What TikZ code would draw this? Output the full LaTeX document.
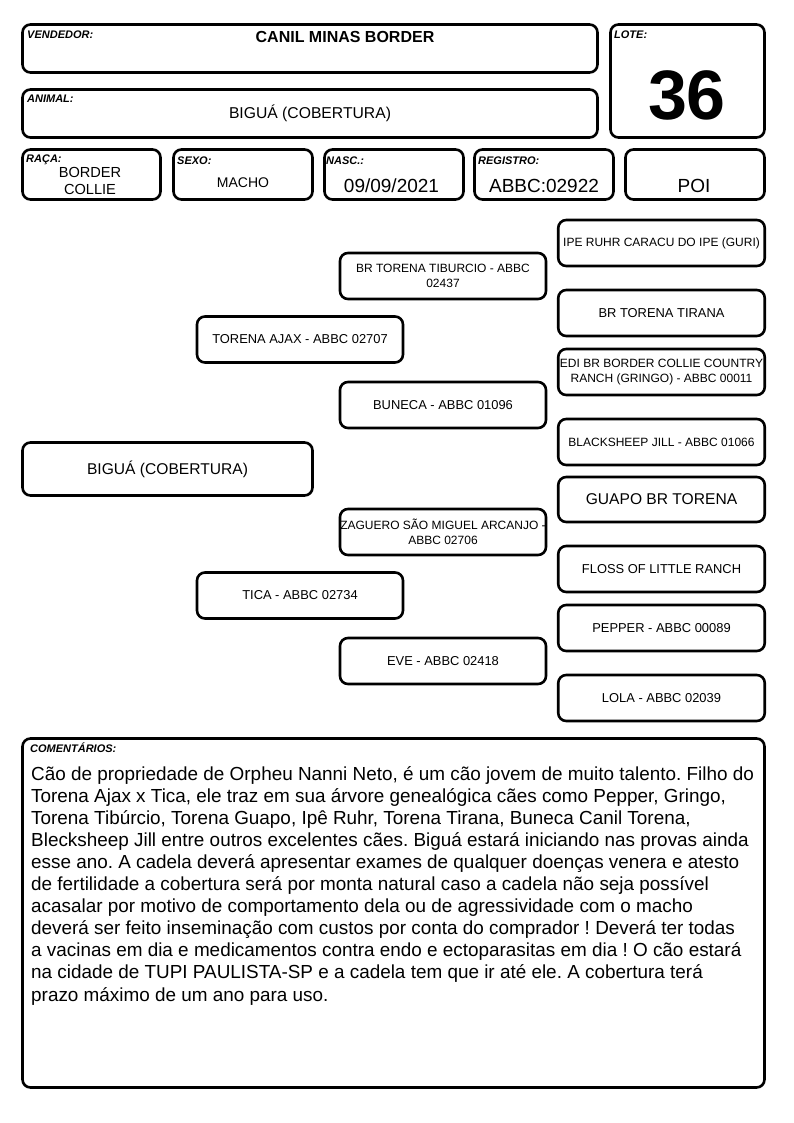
\documentclass[tikz,border=0pt]{standalone}
\usepackage{fontspec}
\setmainfont{Liberation Sans}
\begin{document}
\frenchspacing
\begin{tikzpicture}[x=1pt,y=-1pt,
  box/.style={draw, rounded corners=8pt, line width=2.6pt, inner sep=0pt, align=center},
  lbl/.style={font=\fontsize{11}{12}\selectfont\bfseries\itshape, anchor=west, inner sep=0pt},
  ped/.style={box, minimum width=206pt, minimum height=46pt, font=\fontsize{12.9}{15}\selectfont},
  pedsm/.style={ped, font=\fontsize{12}{15.5}\selectfont},
  pedbig/.style={ped, font=\fontsize{15.6}{18}\selectfont},
  val/.style={inner sep=0pt, font=\fontsize{14.6}{17}\selectfont},
  valbig/.style={inner sep=0pt, font=\fontsize{19}{22}\selectfont},
  cmt/.style={inner sep=0pt, anchor=base west, font=\fontsize{18.9}{22.1}\selectfont}]
\useasboundingbox (0,0) rectangle (794,1123);
% header boxes
\node[box, minimum width=575pt, minimum height=48pt] (vend) at (310,48.5) {};
\node[box, minimum width=575pt, minimum height=48pt, font=\fontsize{15.7}{18}\selectfont] (anim) at (310,113.5) {BIGUÁ (COBERTURA)};
\node[box, minimum width=154pt, minimum height=113pt] (lote) at (687.5,81) {};
\node[box, minimum width=138pt, minimum height=50pt] (raca) at (91.5,174.5) {};
\node[box, minimum width=139pt, minimum height=50pt] (sexo) at (243,174.5) {};
\node[box, minimum width=139pt, minimum height=50pt] (nasc) at (394,174.5) {};
\node[box, minimum width=139pt, minimum height=50pt] (reg) at (544,174.5) {};
\node[box, minimum width=139pt, minimum height=50pt] (poi) at (695,174.5) {};
% labels
\node[lbl] (lvend) at (27,35) {VENDEDOR:};
\node[lbl] (lanim) at (27,99) {ANIMAL:};
\node[lbl] (llote) at (614,35) {LOTE:};
\node[lbl] (lraca) at (26,159.5) {RAÇA:};
\node[lbl] (lsexo) at (177,160.5) {SEXO:};
\node[lbl] (lnasc) at (326,160.5) {NASC.:};
\node[lbl] (lreg) at (478,160.5) {REGISTRO:};
% values
\node[inner sep=0pt, font=\fontsize{16}{19}\selectfont\bfseries] (tvend) at (345,37) {CANIL MINAS BORDER};
\node[inner sep=0pt, font=\fontsize{70}{80}\selectfont\bfseries] (tlote) at (687,95) {36};
\node[val] (traca1) at (90,172) {BORDER};
\node[val] (traca2) at (90,189) {COLLIE};
\node[val, font=\fontsize{14}{17}\selectfont] (tsexo) at (243,183) {MACHO};
\node[valbig] (tnasc) at (391.5,186) {09/09/2021};
\node[valbig] (treg) at (544,186) {ABBC:02922};
\node[valbig] (tpoi) at (694,186) {POI};
% pedigree
\node[pedbig, minimum width=290pt, minimum height=53pt] (main) at (167.5,469) {BIGUÁ (COBERTURA)};
\node[ped] (ajax) at (300,339.5) {TORENA AJAX - ABBC 02707};
\node[ped] (tica) at (300,595.5) {TICA - ABBC 02734};
\node[pedsm] (tib) at (443,276) {BR TORENA TIBURCIO - ABBC\\02437};
\node[ped] (bun) at (443,405) {BUNECA - ABBC 01096};
\node[pedsm] (zag) at (443,532) {ZAGUERO SÃO MIGUEL ARCANJO -\\ABBC 02706};
\node[ped] (eve) at (443,661) {EVE - ABBC 02418};
\node[pedsm, minimum width=206.5pt] (ipe) at (661.5,243) {IPE RUHR CARACU DO IPE (GURI)};
\node[ped, minimum width=206.5pt] (tir) at (661.5,313) {BR TORENA TIRANA};
\node[pedsm, minimum width=206.5pt] (edi) at (661.5,372) {EDI BR BORDER COLLIE COUNTRY\\RANCH (GRINGO) - ABBC 00011};
\node[pedsm, minimum width=206.5pt] (blk) at (661.5,442) {BLACKSHEEP JILL - ABBC 01066};
\node[pedbig, minimum width=206.5pt, minimum height=45pt] (gua) at (661.5,499.5) {GUAPO BR TORENA};
\node[ped, minimum width=206.5pt] (flo) at (661.5,569) {FLOSS OF LITTLE RANCH};
\node[ped, minimum width=206.5pt] (pep) at (661.5,628) {PEPPER - ABBC 00089};
\node[ped, minimum width=206.5pt] (lol) at (661.5,698) {LOLA - ABBC 02039};
% comments
\node[box, minimum width=742pt, minimum height=349pt] (com) at (393.5,913) {};
\node[lbl] (lcom) at (30,748) {COMENTÁRIOS:};
\foreach \t [count=\i from 0] in {%
  {Cão de propriedade de Orpheu Nanni Neto, é um cão jovem de muito talento. Filho do},
  {Torena Ajax x Tica, ele traz em sua árvore genealógica cães como Pepper, Gringo,},
  {Torena Tibúrcio, Torena Guapo, Ipê Ruhr, Torena Tirana, Buneca Canil Torena,},
  {Blecksheep Jill entre outros excelentes cães. Biguá estará iniciando nas provas ainda},
  {esse ano. A cadela deverá apresentar exames de qualquer doenças venera e atesto},
  {de fertilidade a cobertura será por monta natural caso a cadela não seja possível},
  {acasalar por motivo de comportamento dela ou de agressividade com o macho},
  {deverá ser feito inseminação com custos por conta do comprador ! Deverá ter todas},
  {a vacinas em dia e medicamentos contra endo e ectoparasitas em dia ! O cão estará},
  {na cidade de TUPI PAULISTA-SP e a cadela tem que ir até ele. A cobertura terá},
  {prazo máximo de um ano para uso.}}
  \node[cmt] (c\i) at (31,{780+22.1*\i}) {\t};
\end{tikzpicture}
\end{document}
